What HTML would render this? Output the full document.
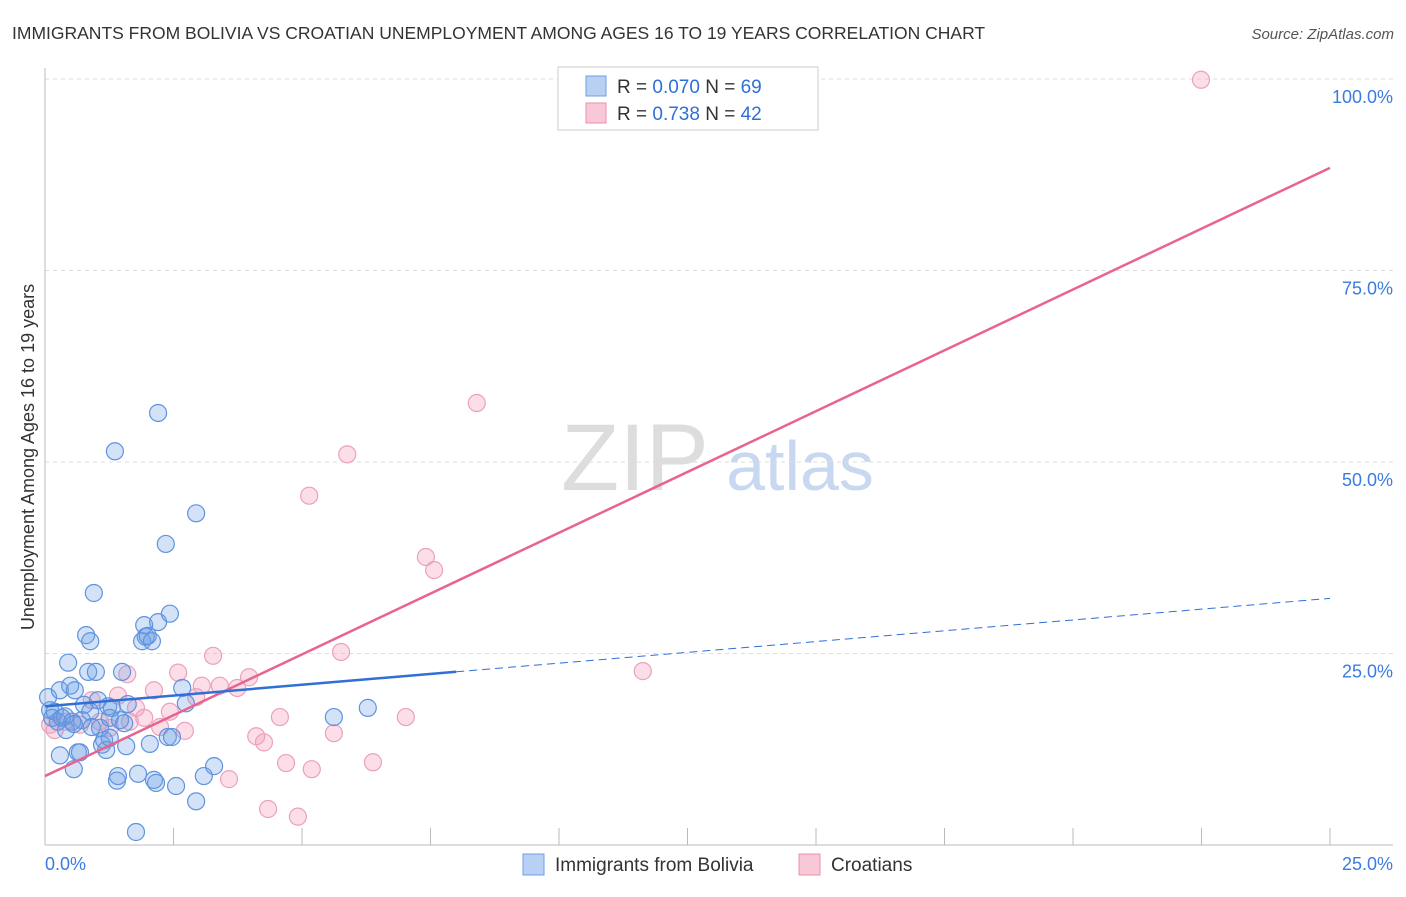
<!DOCTYPE html>
<html><head><meta charset="utf-8"><style>
body{margin:0;background:#fff;font-family:"Liberation Sans",sans-serif}
svg text{font-family:"Liberation Sans",sans-serif}
</style></head><body>
<svg id="chart" width="1406" height="892">
<text x="12" y="39" font-size="17.5" fill="#333">IMMIGRANTS FROM BOLIVIA VS CROATIAN UNEMPLOYMENT AMONG AGES 16 TO 19 YEARS CORRELATION CHART</text>
<text x="1394" y="39" font-size="15" fill="#555" font-style="italic" text-anchor="end">Source: ZipAtlas.com</text>
<text x="635" y="490" font-size="95" fill="#ddd" text-anchor="middle" font-family="Liberation Serif">ZIP</text>
<text x="800" y="490" font-size="70" fill="#c8d8f0" text-anchor="middle">atlas</text>
<text transform="translate(34,457) rotate(-90)" font-size="18" fill="#333" text-anchor="middle">Unemployment Among Ages 16 to 19 years</text>
<g id="grid"></g><g id="axes"></g><g id="pts"></g><g id="lines"></g>
<g>
<rect x="558" y="67" width="260" height="63" fill="#fff" stroke="#ccc"/>
<rect x="586" y="76" width="20" height="20" fill="#b8d0f4" stroke="#6f9fe0"/>
<rect x="586" y="103" width="20" height="20" fill="#f8c8d6" stroke="#e890b0"/>
<text x="617" y="93" font-size="19" fill="#333">R = <tspan fill="#2f6fd6">0.070</tspan>   N = <tspan fill="#2f6fd6">69</tspan></text>
<text x="617" y="120" font-size="19" fill="#333">R =  <tspan fill="#2f6fd6">0.738</tspan>   N = <tspan fill="#2f6fd6">42</tspan></text>
</g>
<g>
<rect x="523" y="854" width="21" height="21" fill="#b8d0f4" stroke="#6f9fe0"/>
<text x="555" y="871" font-size="19" fill="#333">Immigrants from Bolivia</text>
<rect x="799" y="854" width="21" height="21" fill="#f8c8d6" stroke="#e890b0"/>
<text x="831" y="871" font-size="19" fill="#333">Croatians</text>
</g>
</svg>
<script>
const blueX=[0.06,0.10,0.14,0.19,0.25,0.29,0.33,0.39,0.45,0.49,0.53,0.56,0.58,0.64,0.68,0.72,0.76,0.80,0.84,0.88,0.91,0.95,0.99,1.03,1.07,1.11,1.15,1.19,1.23,1.26,1.30,1.36,1.40,1.42,1.46,1.50,1.54,1.58,1.61,1.81,1.89,1.93,1.96,2.00,2.04,2.08,2.12,2.16,2.20,2.20,2.35,2.39,2.43,2.47,2.55,2.67,2.74,2.94,2.94,3.09,3.29,1.77,5.62,6.28,0.29,0.41,0.56,0.88,1.26];
const blueY=[19.3,17.6,16.6,17.4,16.1,20.2,16.6,16.8,23.8,20.8,16.1,9.9,20.2,12.1,12.1,16.3,18.3,27.4,22.6,26.6,15.4,32.9,22.6,18.9,15.3,13.1,13.7,12.4,18.1,16.6,17.9,51.4,8.4,9.0,16.3,22.6,15.9,12.9,18.4,9.3,26.6,28.7,27.2,27.3,13.2,26.6,8.5,8.1,56.4,29.1,39.3,14.1,30.2,14.1,7.7,20.5,18.5,43.3,5.7,9.0,10.3,1.7,16.7,17.9,11.7,15.0,15.8,17.4,14.0];
const pinkX=[22.49,8.40,5.88,5.14,7.41,7.57,11.63,5.76,3.27,2.59,3.97,3.05,3.40,3.74,2.12,1.60,1.42,0.91,1.77,2.94,2.43,1.93,4.57,7.02,4.11,4.26,5.62,4.69,5.19,6.38,3.58,4.34,4.92,2.72,2.24,0.10,0.19,0.39,0.68,1.07,1.26,1.65];
const pinkY=[99.9,57.7,51.0,45.6,37.6,35.9,22.7,25.2,24.7,22.5,21.9,20.8,20.8,20.5,20.2,22.3,19.5,18.9,17.9,19.3,17.4,16.6,16.7,16.7,14.2,13.4,14.6,10.7,9.9,10.8,8.6,4.7,3.7,14.9,15.4,15.7,15.0,16.1,15.7,16.1,15.3,16.1];
const pinkTrend=[9.0,88.4];   // y at x=0 and x=25
const blueTrend=[18.1,32.2];  // y at x=0 and x=25
const blueSolidEnd=8.0;
const yTicks=[25,50,75,100];
const yTickLabels=["25.0%","50.0%","75.0%","100.0%"];
const xTicks=[0,2.5,5,7.5,10,12.5,15,17.5,20,22.5,25];

const X=v=>45+v*51.4, Y=v=>845-v*7.66;
const NS="http://www.w3.org/2000/svg";
function mk(t,p,a){const e=document.createElementNS(NS,t);for(const k in a)e.setAttribute(k,a[k]);p.appendChild(e);return e;}
const grid=document.getElementById('grid'),axes=document.getElementById('axes'),pts=document.getElementById('pts'),lines=document.getElementById('lines'),svg=document.getElementById('chart');
yTicks.forEach((t,i)=>{
 const l=mk('line',grid,{x1:45,x2:1393,y1:Y(t),y2:Y(t),stroke:'#ddd','stroke-dasharray':'4,4'});
 
 
 const tx=mk('text',svg,{x:1393,y:Y(t)+24,'font-size':18,fill:'#3b7be0','text-anchor':'end'});
 tx.textContent=yTickLabels[i];
 
 
});
mk('line',axes,{x1:45,x2:45,y1:68,y2:845,stroke:'#bbb'});
mk('line',axes,{x1:45,x2:1393,y1:845,y2:845,stroke:'#bbb'});
xTicks.forEach(t=>{const l=mk('line',axes,{x1:X(t),x2:X(t),y1:828,y2:845,stroke:'#bbb'});
 
 });
const x0=mk('text',svg,{x:45,y:870,'font-size':18,fill:'#3b7be0'});x0.textContent='0.0%';


const x1=mk('text',svg,{x:1393,y:870,'font-size':18,fill:'#3b7be0','text-anchor':'end'});x1.textContent='25.0%';


pinkX.forEach((v,i)=>{const c=mk('circle',pts,{cx:X(v),cy:Y(pinkY[i]),r:8.5,fill:'rgba(244,160,188,0.35)',stroke:'#eca0bc','stroke-width':1.2});
 
 });
blueX.forEach((v,i)=>{const c=mk('circle',pts,{cx:X(v),cy:Y(blueY[i]),r:8.5,fill:'rgba(110,160,230,0.3)',stroke:'#5f93e0','stroke-width':1.2});
 
 });
const bAt=x=>blueTrend[0]+(blueTrend[1]-blueTrend[0])*x/25;
const pl=mk('line',lines,{x1:X(0),y1:Y(pinkTrend[0]),x2:X(25),y2:Y(pinkTrend[1]),stroke:'#e8648f','stroke-width':2.5});


const bl=mk('line',lines,{x1:X(0),y1:Y(bAt(0)),x2:X(blueSolidEnd),y2:Y(bAt(blueSolidEnd)),stroke:'#2f6fd6','stroke-width':2.5});


const bd=mk('line',lines,{x1:X(blueSolidEnd),y1:Y(bAt(blueSolidEnd)),x2:X(25),y2:Y(bAt(25)),stroke:'#2f6fd6','stroke-width':1,'stroke-dasharray':'8,5'});


</script>
</body></html>
